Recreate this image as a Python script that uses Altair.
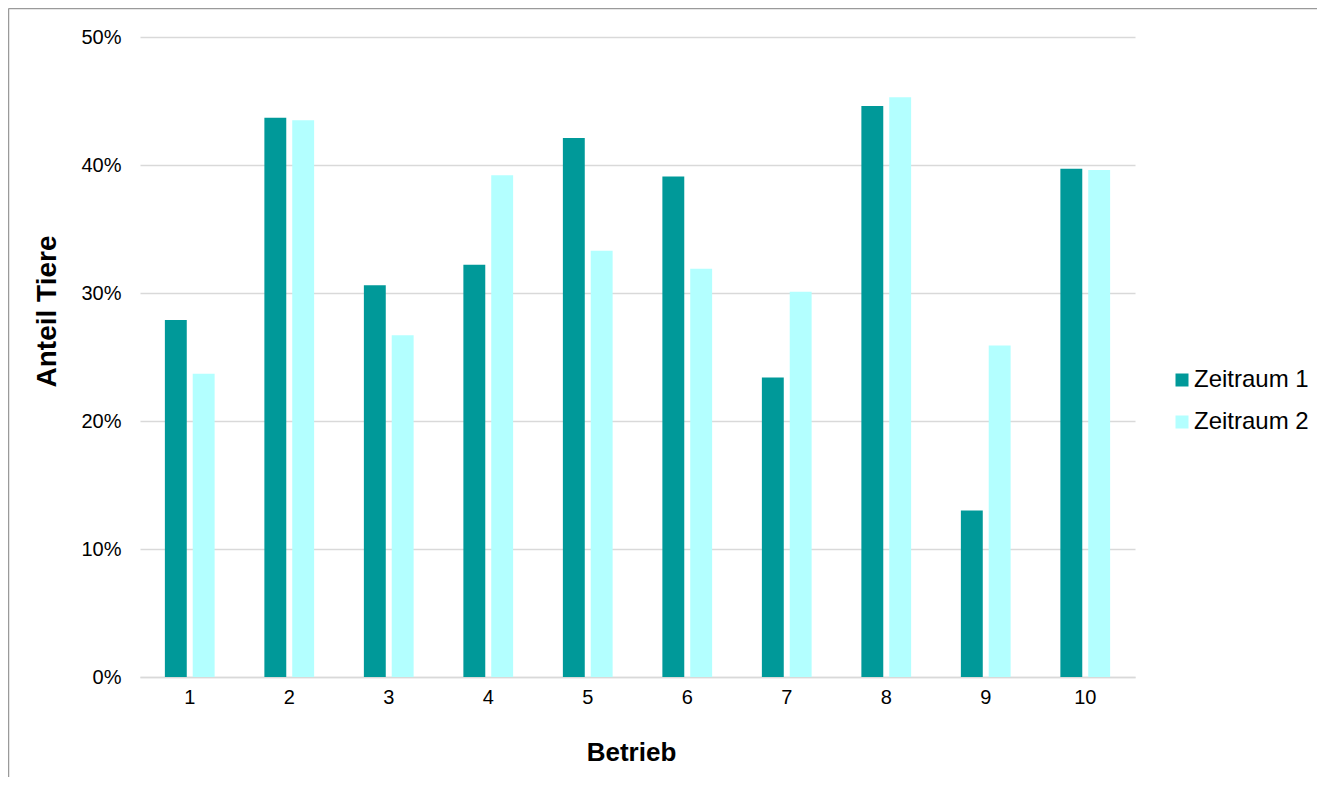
import altair as alt
import pandas as pd

betrieb = ["1", "2", "3", "4", "5", "6", "7", "8", "9", "10"]
zeitraum_1 = [0.279, 0.437, 0.306, 0.322, 0.421, 0.391, 0.234, 0.446, 0.130, 0.397]
zeitraum_2 = [0.237, 0.435, 0.267, 0.392, 0.333, 0.319, 0.301, 0.453, 0.259, 0.396]
series = ["Zeitraum 1", "Zeitraum 2"]
colors = ["#009999", "#B3FFFF"]
y_ticks = [0, 0.1, 0.2, 0.3, 0.4, 0.5]

rows = []
for b, v1, v2 in zip(betrieb, zeitraum_1, zeitraum_2):
    rows.append({"Betrieb": b, "Serie": series[0], "Wert": v1})
    rows.append({"Betrieb": b, "Serie": series[1], "Wert": v2})
df = pd.DataFrame(rows)

FONT = "Liberation Sans"

bars = alt.Chart(df).mark_bar().encode(
    x=alt.X("Betrieb:N", sort=betrieb,
            scale=alt.Scale(paddingInner=0.5, paddingOuter=0.25),
            axis=alt.Axis(title="Betrieb", labelAngle=0, labelFontSize=20,
                          labelPadding=10, ticks=False, domain=True,
                          domainColor="#D9D9D9", domainWidth=1.5,
                          titleFontSize=26, titleFontWeight="bold",
                          titleX=491, titleY=83, titleBaseline="alphabetic",
                          titleAlign="center")),
    xOffset=alt.XOffset("Serie:N", sort=series,
                        scale=alt.Scale(paddingInner=0.214, paddingOuter=0)),
    y=alt.Y("Wert:Q", scale=alt.Scale(domain=[0, 0.5], nice=False),
            axis=alt.Axis(title="Anteil Tiere", format=".0%", values=y_ticks,
                          labelFontSize=20, labelPadding=19, ticks=False,
                          domain=False, grid=True, gridColor="#D9D9D9",
                          gridWidth=1.5, titleFontSize=28,
                          titleFontWeight="bold", titleX=-85, titleY=274,
                          titleBaseline="alphabetic", titleAlign="center",
                          titleAngle=270)),
    color=alt.Color("Serie:N", sort=series,
                    scale=alt.Scale(domain=series, range=colors),
                    legend=alt.Legend(title=None, orient="none",
                                      legendX=1030, legendY=331,
                                      symbolType="square", symbolSize=169,
                                      symbolStrokeWidth=0, labelFontSize=24,
                                      rowPadding=18, labelOffset=0)),
)

frame = alt.Chart(alt.Data(values=[{}])).mark_rule(
    color="#9A9A9A", strokeWidth=1.5, clip=False
)
left_border = frame.encode(x=alt.value(-131.5), y=alt.value(-28.5), y2=alt.value(760))
top_border = frame.encode(x=alt.value(-131.5), x2=alt.value(1200), y=alt.value(-28.5))

chart = alt.layer(bars, left_border, top_border).properties(
    width=995, height=640,
    autosize=alt.AutoSizeParams(type="none"),
    padding={"left": 132, "top": 29, "right": 182, "bottom": 100},
).configure(font=FONT).configure_view(stroke=None).configure_axis(
    labelColor="#000000", titleColor="#000000"
).configure_legend(labelColor="#000000")

chart.save("out.html", embed_options={"renderer": "svg", "actions": False})
